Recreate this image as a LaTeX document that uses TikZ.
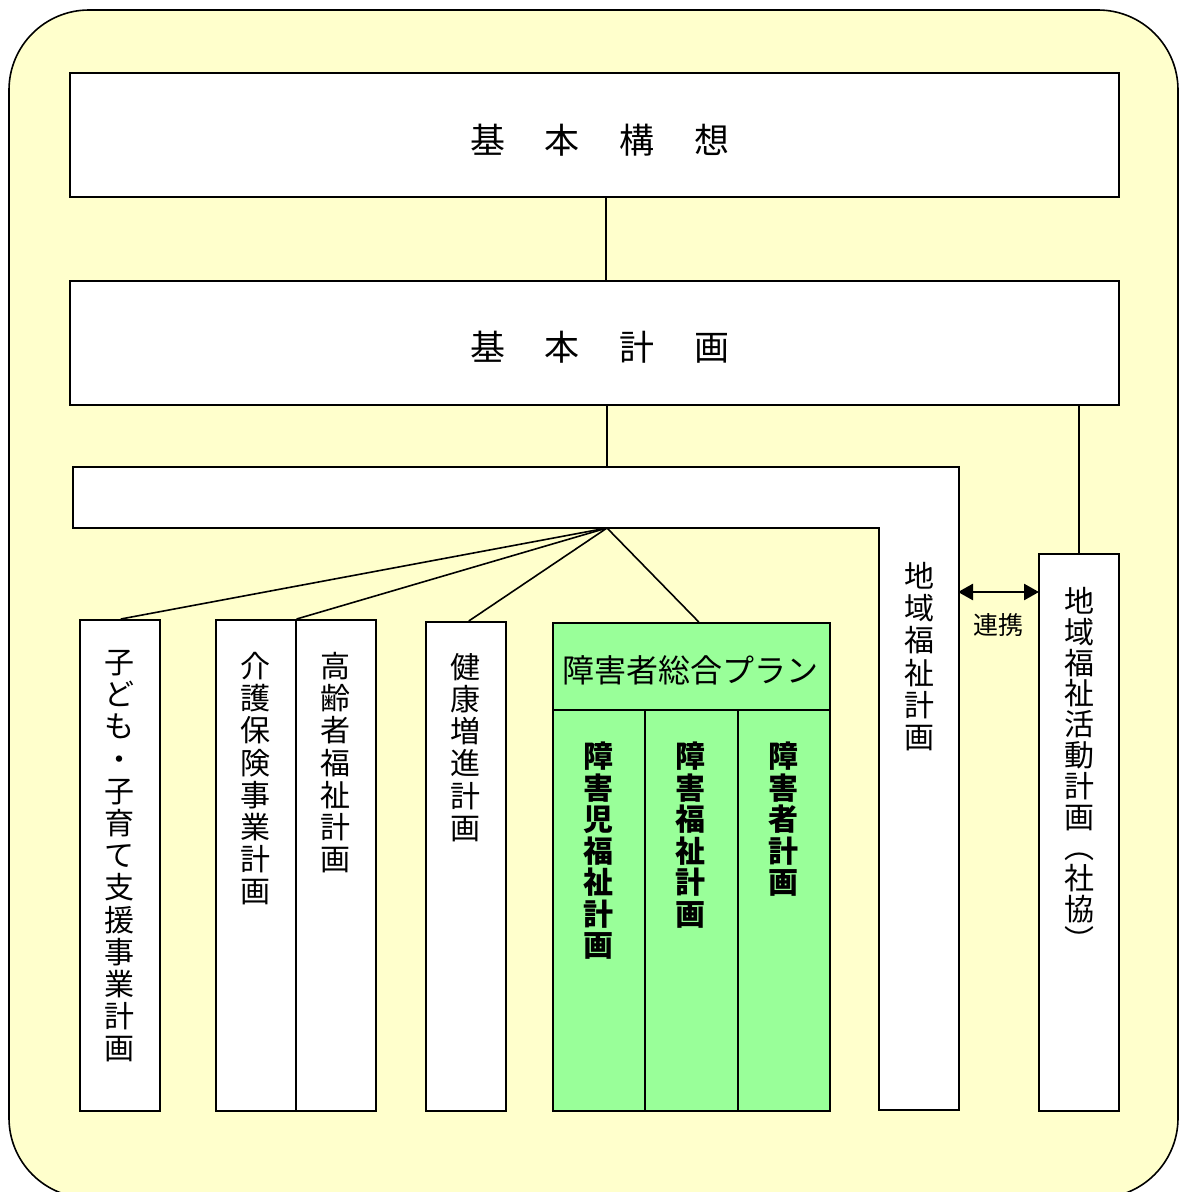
\documentclass[tikz,border=0pt]{standalone}
\usepackage{fontspec}
\setmainfont{Noto Sans CJK JP}
\usetikzlibrary{arrows.meta}
\definecolor{bgyellow}{HTML}{FFFFCC}
\definecolor{plangreen}{HTML}{99FF99}
\begin{document}
\begin{tikzpicture}[x=1pt,y=-1pt,
  lw/.style={line width=1.6pt},
  boxw/.style={draw, lw, fill=white, rectangle, inner sep=0pt, anchor=north west},
  boxg/.style={boxw, fill=plangreen},
  vt/.style={align=center, anchor=north, inner sep=0pt, font=\fontsize{30}{32.2}\selectfont},
  vtb/.style={vt, font=\fontsize{30}{31.5}\selectfont\bfseries},
  title/.style={inner sep=0pt, font=\fontsize{35}{40}\selectfont},
  conn/.style={lw}]
\useasboundingbox (0,0) rectangle (1180,1192);
% background
\draw[lw, fill=bgyellow, rounded corners=80pt] (9,10) rectangle (1178,1198);

% top boxes
\node[boxw, minimum width=1049pt, minimum height=124pt] (kousou) at (69,72) {};
\node[boxw, minimum width=1049pt, minimum height=124pt] (keikaku) at (69,280) {};
\node[title] (t1) at (600,140) {基\hspace{40pt}本\hspace{40pt}構\hspace{40pt}想};
\node[title] (t2) at (600,347) {基\hspace{40pt}本\hspace{40pt}計\hspace{40pt}画};

% L-shaped box (地域福祉計画)
\coordinate (Ltop) at (607,467);
\coordinate (fan) at (607,528);
\coordinate (chiikiR) at (959,592);
\draw[lw, fill=white] (73,467) -- (959,467) -- (959,1110) -- (879,1110) -- (879,528) -- (73,528) -- cycle;
\node[vt] (tchiiki) at (919,562) {地\\域\\福\\祉\\計\\画};

% lower boxes
\node[boxw, minimum width=80pt, minimum height=491pt] (kodomo) at (79,619) {};
\node[boxw, minimum width=80pt, minimum height=491pt] (kaigo) at (215,619) {};
\node[boxw, minimum width=80pt, minimum height=491pt] (koreisha) at (295,619) {};
\node[boxw, minimum width=80pt, minimum height=489pt] (kenko) at (425,621) {};
\node[boxg, minimum width=277pt, minimum height=87pt] (planhead) at (552,622) {};
\node[boxg, minimum width=92pt, minimum height=401pt] (c1) at (552,709) {};
\node[boxg, minimum width=93pt, minimum height=401pt] (c2) at (644,709) {};
\node[boxg, minimum width=92pt, minimum height=401pt] (c3) at (737,709) {};
\node[boxw, minimum width=80pt, minimum height=557pt] (katsudo) at (1038,553) {};

% texts
\node[vt] (tkodomo) at (119,650) {子\\ど\\も\\・\\子\\育\\て\\支\\援\\事\\業\\計\\画};
\node[vt] (tkaigo) at (255,652) {介\\護\\保\\険\\事\\業\\計\\画};
\node[vt] (tkorei) at (335,652) {高\\齢\\者\\福\\祉\\計\\画};
\node[vt] (tkenko) at (465,653) {健\\康\\増\\進\\計\\画};
\node[inner sep=0pt, font=\fontsize{32}{36}\selectfont] (tplan) at (690,670) {障害者総合プラン};
\node[vtb] (tc1) at (598,742) {障\\害\\児\\福\\祉\\計\\画};
\node[vtb] (tc2) at (690,742) {障\\害\\福\\祉\\計\\画};
\node[vtb] (tc3) at (783,742) {障\\害\\者\\計\\画};
\node[vt, font=\fontsize{30}{30.8}\selectfont] (tkatsudo) at (1079,587) {地\\域\\福\\祉\\活\\動\\計\\画\\︵\\社\\協\\︶};
\node[inner sep=0pt, font=\fontsize{25}{30}\selectfont] (trenkei) at (998,625) {連携};

% connectors
\draw[conn] ([xshift=11.5pt]kousou.south) -- ([xshift=11.5pt]keikaku.north);
\draw[conn] (keikaku.south -| Ltop) -- (Ltop);
\draw[conn] (keikaku.south -| katsudo.north) -- (katsudo.north);
\draw[conn] (fan) -- ([xshift=1pt]kodomo.north);
\draw[conn] (fan) -- (kaigo.north east);
\draw[conn] (fan) -- ([xshift=3pt]kenko.north);
\draw[conn] (fan) -- ([xshift=7.5pt]planhead.north);
\draw[line width=2.6pt, {Triangle[length=15pt,width=16pt]}-{Triangle[length=15pt,width=16pt]}, shorten <=-1pt, shorten >=-1pt] (chiikiR) -- (katsudo.west |- chiikiR);
\end{tikzpicture}
\end{document}
